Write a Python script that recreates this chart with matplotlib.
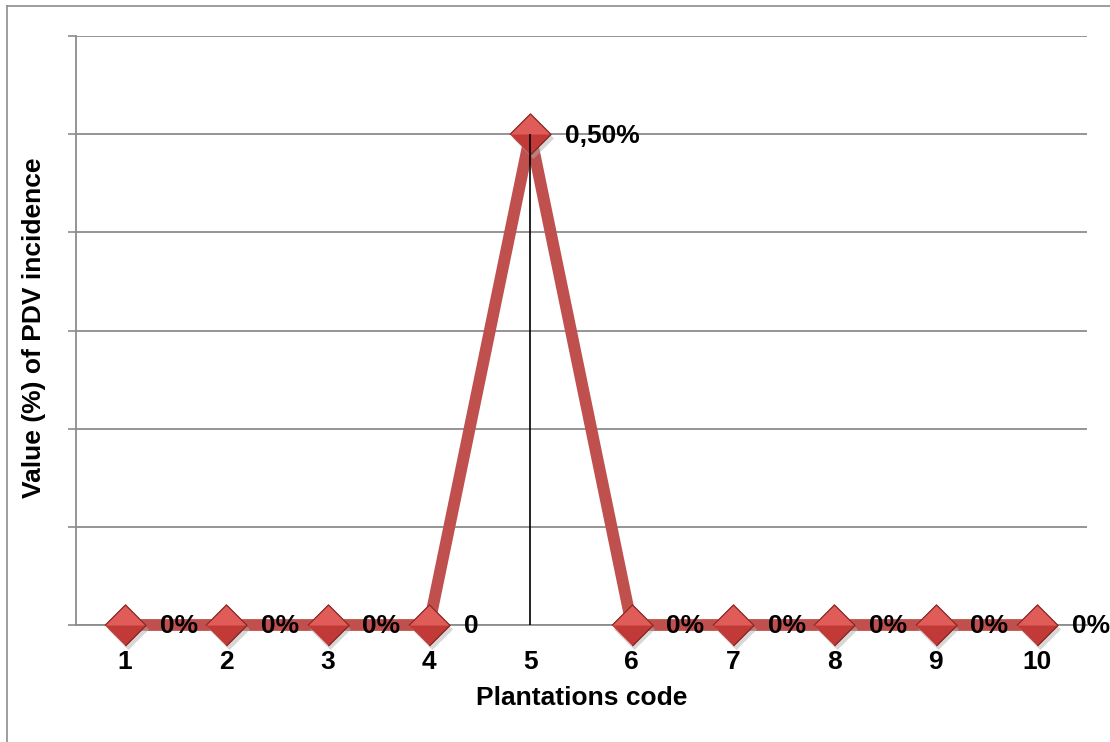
import numpy as np
import matplotlib
matplotlib.use("Agg")
import matplotlib.pyplot as plt
from matplotlib.lines import Line2D

plt.rcParams['font.family'] = ['Liberation Sans', 'DejaVu Sans']

# data
codes = [1, 2, 3, 4, 5, 6, 7, 8, 9, 10]
incidence = [0, 0, 0, 0, 0.5, 0, 0, 0, 0, 0]
point_labels = ["0%", "0%", "0%", "0", "0,50%", "0%", "0%", "0%", "0%", "0%"]
y_ticks = [0, 0.1, 0.2, 0.3, 0.4, 0.5, 0.6]

W, H = 1110, 742
fig = plt.figure(figsize=(W / 100, H / 100), dpi=100)

# outer chart border (left + top visible)
fig.add_artist(Line2D([7 / W, 7 / W], [0, 1 - 6 / H], transform=fig.transFigure,
                      color='#8c8c8c', lw=1.2))
fig.add_artist(Line2D([7 / W, 1], [1 - 6 / H, 1 - 6 / H], transform=fig.transFigure,
                      color='#8c8c8c', lw=1.2))

left, right, top, bottom = 76, 1087, 36, 625
ax = fig.add_axes([left / W, 1 - bottom / H, (right - left) / W, (bottom - top) / H])

ax.set_xlim(0.516, 10.493)
ax.set_ylim(0, 0.6)
ax.set_yticks(y_ticks)
ax.set_yticklabels([])
ax.set_xticks(codes)
ax.set_xticklabels([str(c) for c in codes], fontsize=19, fontweight='bold')
ax.tick_params(axis='x', length=0, pad=18)
ax.tick_params(axis='y', length=6, width=1.2, color='#8c8c8c', direction='out')
ax.grid(axis='y', color='#8c8c8c', lw=1.3)
ax.set_axisbelow(True)
for s in ['top', 'right']:
    ax.spines[s].set_visible(False)
for s in ['left', 'bottom']:
    ax.spines[s].set_color('#8c8c8c')
    ax.spines[s].set_linewidth(1.3)

ax.plot(codes, incidence, color='#c0504d', lw=8.5, solid_joinstyle='round',
        zorder=3, clip_on=False)

# drop line at the peak
ax.vlines(codes[4], 0, incidence[4], color='black', lw=1.2, zorder=6)

# diamond markers with shading
diamond = [(-1, 0), (0, 1), (1, 0), (0, -1)]
top_half = [(-1, 0), (0, 1), (1, 0), (-1, 0)]
ms = 29.5
ax.plot(np.array(codes) + 0.025, np.array(incidence) - 0.004, ls='none', marker=diamond,
        ms=ms, mfc='#b0b0b0', mec='none', alpha=0.5, zorder=4, clip_on=False)
ax.plot(codes, incidence, ls='none', marker=diamond, ms=ms, mfc='#c23a37',
        mec='#8e2a27', mew=0.8, zorder=5, clip_on=False)
ax.plot(codes, incidence, ls='none', marker=top_half, ms=ms, mfc='#e05c59',
        mec='none', zorder=5, clip_on=False)
ax.plot(codes, incidence, ls='none', marker=diamond, ms=ms, mfc='none',
        mec='#8e2a27', mew=0.8, zorder=5, clip_on=False)

for x, y, lab in zip(codes, incidence, point_labels):
    ax.annotate(lab, (x, y), xytext=(25, -1), textcoords='offset points',
                ha='left', va='center', fontsize=19, fontweight='bold', zorder=7)

ax.set_xlabel("Plantations code", fontsize=19, fontweight='bold')
ax.xaxis.set_label_coords(0.5, -0.103)
ax.set_ylabel("Value (%) of PDV incidence", fontsize=19, fontweight='bold')
ax.yaxis.set_label_coords(-0.03, 0.504)

fig.savefig("out.png", dpi=100)
